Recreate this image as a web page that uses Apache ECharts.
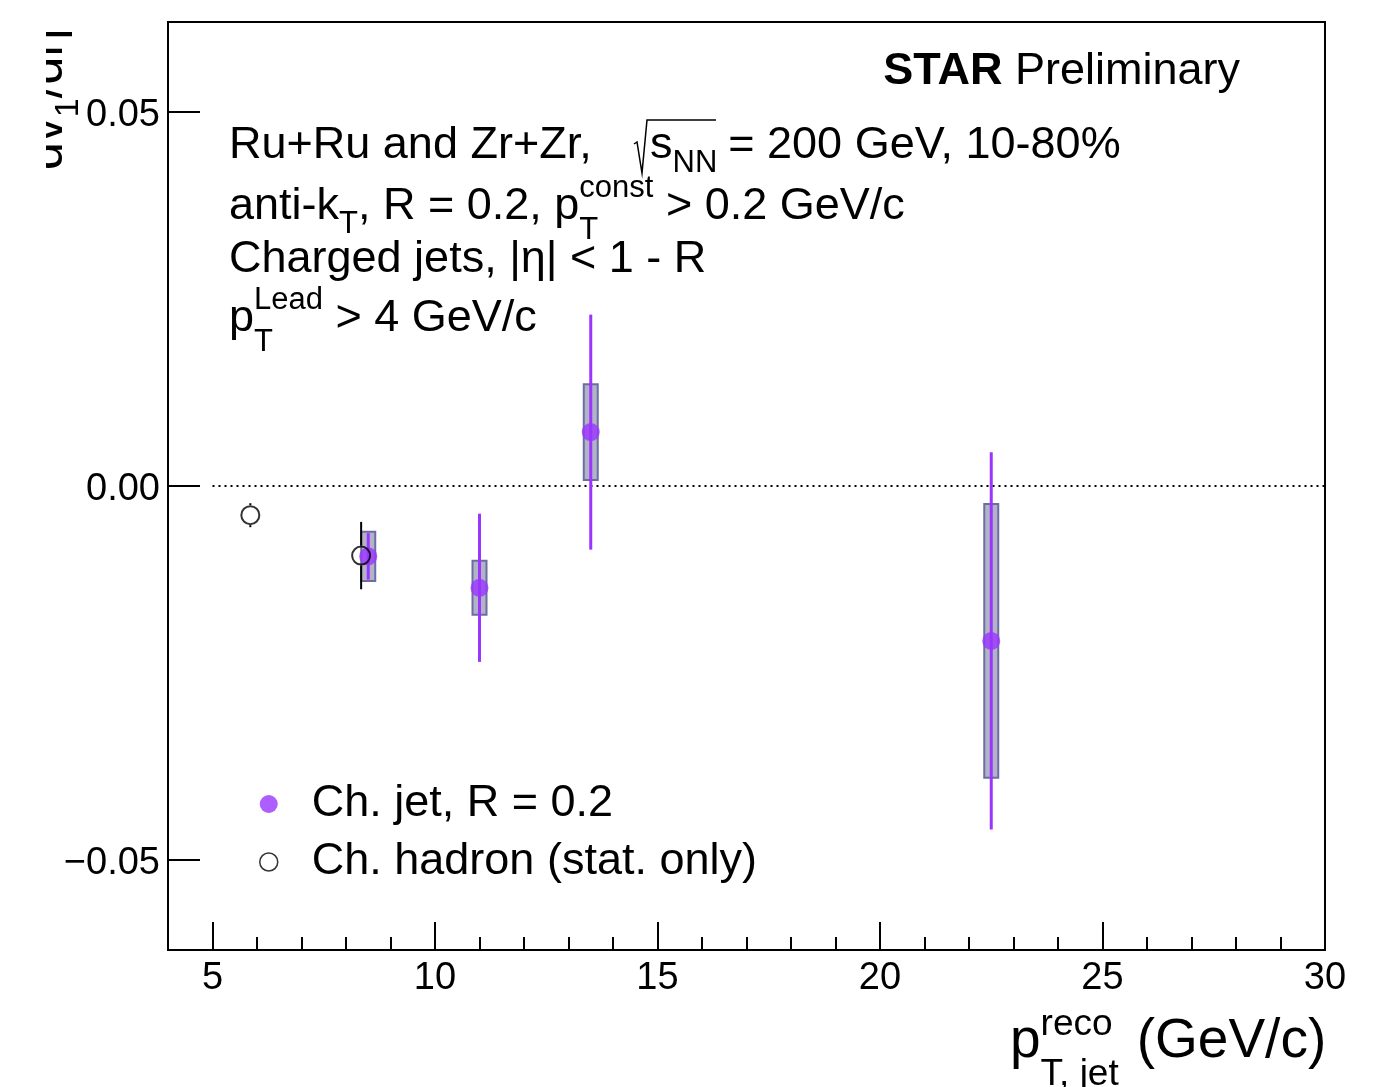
<!DOCTYPE html>
<html>
<head>
<meta charset="utf-8">
<script src="https://cdn.jsdelivr.net/npm/echarts@6/dist/echarts.min.js"></script>
<style>
  html, body { margin: 0; padding: 0; background: #fff; }
  #chart { width: 1383px; height: 1087px; }
</style>
</head>
<body>
<div id="chart"></div>
<script>
const FONT = '"Liberation Sans", Arial, Helvetica, sans-serif';

// Charged-jet dv1/deta vs reconstructed jet pT
const jetPt   = [8.5, 11.0, 13.5, 22.5];
const jetV1   = [-0.0094, -0.0136, 0.0072, -0.0207];
const jetStat = [0.0031, 0.0099, 0.0157, 0.0252];
const jetSys  = [0.0033, 0.0036, 0.0064, 0.0183];

// Charged-hadron reference points (statistical errors only)
const hadronPt   = [5.85, 8.34];
const hadronV1   = [-0.0039, -0.0093];
const hadronStat = [0.0016, 0.0045];

// Axis ticks
const xMajorTicks = [5, 10, 15, 20, 25, 30];
const xMinorTicks = [6, 7, 8, 9, 11, 12, 13, 14, 16, 17, 18, 19, 21, 22, 23, 24, 26, 27, 28, 29];
const yTicks = [-0.05, 0, 0.05];

// Reference line at dv1/deta = 0
const zeroLine = [[5, 0], [30, 0]];

const jetName = 'Ch. jet, R = 0.2';
const hadronName = 'Ch. hadron (stat. only)';
const PURPLE = '#9a35ff';

// ---- text helpers (sub/superscript runs) ----
const mctx = document.createElement('canvas').getContext('2d');
function measure(t, fs, bold) {
  mctx.font = (bold ? 'bold ' : '') + fs + 'px ' + FONT;
  return mctx.measureText(t).width;
}
function txt(x, base, t, fs, bold) {
  return {
    type: 'text', x: x, y: base - 0.28 * fs, silent: true,
    style: { text: t, fontSize: fs, fontFamily: FONT, fontWeight: bold ? 'bold' : 'normal',
             fill: '#000', align: 'left', verticalAlign: 'middle' }
  };
}
function run(x0, base, pieces, out) {
  let x = x0;
  for (const p of pieces) {
    if (p.gap) { x += p.gap; continue; }
    if (p.at !== undefined) { x = p.at; continue; }
    if (p.stack) {
      let w = 0;
      for (const s of p.stack) {
        out.push(txt(x, base + (s.dy || 0), s.t, s.fs));
        w = Math.max(w, measure(s.t, s.fs));
      }
      x += w;
      continue;
    }
    out.push(txt(x, base + (p.dy || 0), p.t, p.fs, p.bold));
    x += measure(p.t, p.fs, p.bold);
  }
  return x;
}
function runWidth(pieces) {
  let w = 0;
  for (const p of pieces) {
    if (p.gap) w += p.gap;
    else if (p.stack) w += Math.max(...p.stack.map(s => measure(s.t, s.fs)));
    else w += measure(p.t, p.fs, p.bold);
  }
  return w;
}

const graphics = [];
const FS = 45, FSS = 31;

// Experiment label, right-aligned
const starRun = [{ t: 'STAR', fs: 45, bold: true }, { t: ' Preliminary', fs: 45 }];
run(1240 - runWidth(starRun), 84, starRun, graphics);

// Collision system / jet selection text
run(229, 158, [
  { t: 'Ru+Ru and Zr+Zr,', fs: FS },
  { at: 650 }, { t: 's', fs: FS }, { t: 'NN', fs: FSS, dy: 14 },
  { gap: 11 }, { t: '= 200 GeV, 10-80%', fs: FS }
], graphics);
graphics.push({
  type: 'polyline', silent: true,
  shape: { points: [[634, 144], [637, 142], [642, 173], [647, 120], [716, 120]] },
  style: { stroke: '#000', lineWidth: 1.5, fill: null }
});
run(229, 219, [
  { t: 'anti-k', fs: FS }, { t: 'T', fs: FSS, dy: 14 },
  { t: ', R = 0.2, p', fs: FS },
  { stack: [{ t: 'const', fs: FSS, dy: -22 }, { t: 'T', fs: FSS, dy: 20 }] },
  { t: ' > 0.2 GeV/c', fs: FS }
], graphics);
run(229, 272, [{ t: 'Charged jets, |\u03b7| < 1 - R', fs: FS }], graphics);
run(229, 331, [
  { t: 'p', fs: FS },
  { stack: [{ t: 'Lead', fs: FSS, dy: -22 }, { t: 'T', fs: FSS, dy: 20 }] },
  { t: ' > 4 GeV/c', fs: FS }
], graphics);

// x-axis title
run(1010, 1057, [
  { t: 'p', fs: 55 },
  { stack: [{ t: 'reco', fs: 37, dy: -22 }, { t: 'T, jet', fs: 37, dy: 28 }] },
  { gap: 18 }, { t: '(GeV/c)', fs: 55 }
], graphics);

// y-axis title, rotated to read bottom-to-top; its upper edge runs off the canvas margin
const yTitle = [];
run(0, 0, [
  { t: 'dv', fs: 50 }, { t: '1', fs: 34, dy: 16 }, { t: '/d\u03b7', fs: 50 }
], yTitle);
graphics.push({ type: 'group', x: 62, y: 170, rotation: Math.PI / 2, z: 100, children: yTitle });
graphics.push({ type: 'rect', z: 101, silent: true,
                shape: { x: 0, y: 0, width: 46, height: 200 }, style: { fill: '#fff' } });

// ---- custom renderers ----
function vbar(color, width, gap) {
  return function (params, api) {
    const x = api.value(0), y = api.value(1), e = api.value(2);
    const a = api.coord([x, y + e]), b = api.coord([x, y - e]), c = api.coord([x, y]);
    if (!gap) {
      return { type: 'line', shape: { x1: a[0], y1: a[1], x2: b[0], y2: b[1] },
               style: { stroke: color, lineWidth: width } };
    }
    const children = [];
    if (c[1] - gap > a[1]) children.push({ type: 'line',
      shape: { x1: a[0], y1: a[1], x2: c[0], y2: c[1] - gap }, style: { stroke: color, lineWidth: width } });
    if (c[1] + gap < b[1]) children.push({ type: 'line',
      shape: { x1: c[0], y1: c[1] + gap, x2: b[0], y2: b[1] }, style: { stroke: color, lineWidth: width } });
    return { type: 'group', children: children };
  };
}
function sysBox(params, api) {
  const x = api.value(0), y = api.value(1), e = api.value(2);
  const a = api.coord([x, y + e]), b = api.coord([x, y - e]);
  return { type: 'rect', shape: { x: a[0] - 7, y: a[1], width: 14, height: b[1] - a[1] },
           style: { fill: '#b3b3c7', stroke: '#6d6da5', lineWidth: 2 } };
}

const tickLine = { color: '#000', width: 2 };
const labelStyle = { fontSize: 38, fontFamily: FONT, color: '#000' };

const option = {
  animation: false,
  backgroundColor: '#fff',
  grid: { left: 168, right: 58, top: 22, bottom: 137, show: true,
          borderColor: '#000', borderWidth: 2, backgroundColor: 'transparent' },
  xAxis: [
    { type: 'value', min: 4, max: 30, position: 'bottom',
      axisLine: { show: false, onZero: false }, splitLine: { show: false },
      axisTick: { inside: true, length: 28, customValues: xMajorTicks, lineStyle: tickLine },
      axisLabel: Object.assign({ customValues: xMajorTicks, margin: 10 }, labelStyle) },
    { type: 'value', min: 4, max: 30, position: 'bottom',
      axisLine: { show: false, onZero: false }, splitLine: { show: false },
      axisTick: { inside: true, length: 13, customValues: xMinorTicks, lineStyle: tickLine },
      axisLabel: { show: false } }
  ],
  yAxis: {
    type: 'value', min: -0.062, max: 0.062,
    axisLine: { show: false, onZero: false }, splitLine: { show: false },
    axisTick: { inside: true, length: 32, customValues: yTicks, lineStyle: tickLine },
    axisLabel: Object.assign({
      customValues: yTicks, margin: 8,
      formatter: v => '{v|' + (v < 0 ? '\u2212' : '') + Math.abs(v).toFixed(2) + '}',
      rich: { v: { fontSize: 38, fontFamily: FONT, color: '#000', padding: [7, 0, 0, 0] } }
    }, labelStyle)
  },
  legend: {
    orient: 'vertical', left: 259, top: 779, padding: 0,
    itemWidth: 18, itemHeight: 18, itemGap: 8,
    selectedMode: false,
    textStyle: { fontSize: 45, fontFamily: FONT, color: '#000', lineHeight: 50, padding: [0, 0, 0, 29] },
    data: [
      { name: jetName, icon: 'circle', itemStyle: { color: PURPLE, borderWidth: 0 } },
      { name: hadronName, icon: 'circle',
        itemStyle: { color: 'rgba(0,0,0,0)', borderColor: '#000', borderWidth: 1.5 } }
    ]
  },
  graphic: graphics,
  series: [
    { type: 'line', data: zeroLine, symbol: 'none', silent: true, z: 1,
      lineStyle: { color: '#000', width: 2, type: [2, 4] } },
    { type: 'custom', name: 'jet-sys', z: 2, silent: true,
      data: jetPt.map((x, i) => [x, jetV1[i], jetSys[i]]), renderItem: sysBox },
    { type: 'custom', name: 'jet-stat', z: 3, silent: true,
      data: jetPt.map((x, i) => [x, jetV1[i], jetStat[i]]), renderItem: vbar(PURPLE, 3, 0) },
    { type: 'scatter', name: jetName, z: 4, symbol: 'circle', symbolSize: 18,
      itemStyle: { color: PURPLE },
      data: jetPt.map((x, i) => [x, jetV1[i]]) },
    { type: 'custom', name: 'hadron-stat', z: 5, silent: true,
      data: hadronPt.map((x, i) => [x, hadronV1[i], hadronStat[i]]), renderItem: vbar('#000', 2, 10) },
    { type: 'scatter', name: hadronName, z: 6, symbol: 'circle', symbolSize: 18,
      itemStyle: { color: 'rgba(0,0,0,0)', borderColor: '#000', borderWidth: 2 },
      data: hadronPt.map((x, i) => [x, hadronV1[i]]) }
  ]
};

const chart = echarts.init(document.getElementById('chart'), null, { renderer: 'canvas' });
chart.setOption(option);
</script>
</body>
</html>
